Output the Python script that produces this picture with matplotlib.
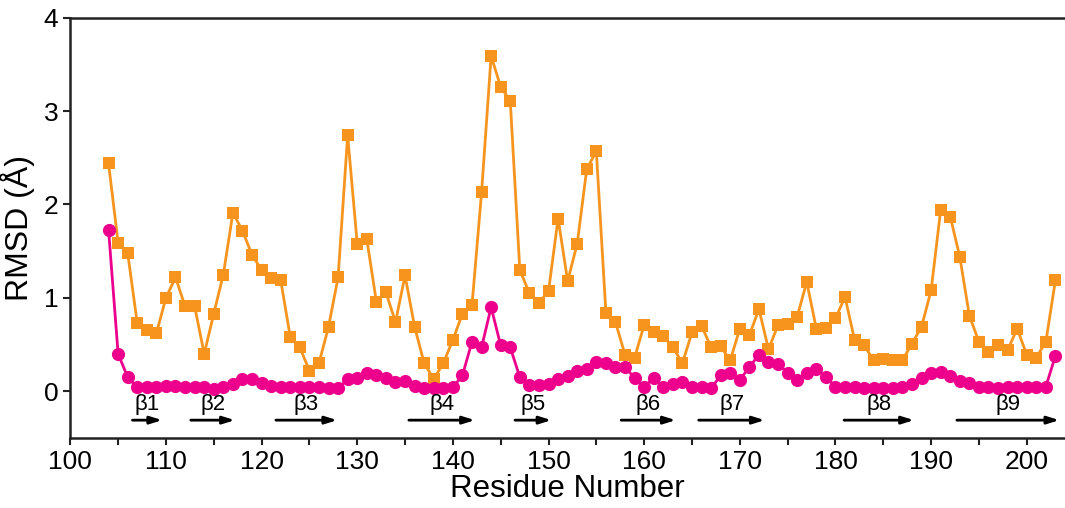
import matplotlib
matplotlib.use("Agg")
import matplotlib.pyplot as plt

# residue numbers 104..203
residues = list(range(104, 204))

rmsd_orange = [
    2.44, 1.59, 1.48, 0.73, 0.66, 0.62, 1.00, 1.22, 0.91, 0.91,   # 104-113
    0.40, 0.83, 1.25, 1.91, 1.72, 1.46, 1.30, 1.21, 1.19, 0.58,   # 114-123
    0.47, 0.22, 0.30, 0.69, 1.22, 2.74, 1.58, 1.63, 0.96, 1.06,   # 124-133
    0.74, 1.24, 0.69, 0.30, 0.13, 0.30, 0.55, 0.83, 0.92, 2.13,   # 134-143
    3.59, 3.26, 3.11, 1.30, 1.05, 0.95, 1.07, 1.85, 1.18, 1.58,   # 144-153
    2.38, 2.57, 0.84, 0.74, 0.39, 0.36, 0.71, 0.63, 0.59, 0.47,   # 154-163
    0.30, 0.63, 0.70, 0.47, 0.48, 0.33, 0.67, 0.60, 0.88, 0.45,   # 164-173
    0.71, 0.72, 0.80, 1.17, 0.67, 0.68, 0.78, 1.01, 0.55, 0.49,   # 174-183
    0.33, 0.35, 0.33, 0.33, 0.51, 0.69, 1.08, 1.94, 1.87, 1.44,   # 184-193
    0.81, 0.53, 0.42, 0.49, 0.44, 0.67, 0.39, 0.36, 0.53, 1.19,   # 194-203
]

rmsd_magenta = [
    1.73, 0.40, 0.15, 0.04, 0.04, 0.05, 0.06, 0.06, 0.05, 0.05,   # 104-113
    0.04, 0.02, 0.04, 0.08, 0.13, 0.13, 0.09, 0.06, 0.04, 0.04,   # 114-123
    0.04, 0.05, 0.04, 0.03, 0.03, 0.13, 0.14, 0.20, 0.17, 0.14,   # 124-133
    0.10, 0.11, 0.06, 0.03, 0.03, 0.03, 0.04, 0.17, 0.53, 0.47,   # 134-143
    0.90, 0.49, 0.47, 0.15, 0.07, 0.07, 0.08, 0.13, 0.16, 0.22,   # 144-153
    0.24, 0.31, 0.30, 0.26, 0.26, 0.14, 0.05, 0.14, 0.04, 0.08,   # 154-163
    0.10, 0.05, 0.04, 0.03, 0.17, 0.19, 0.12, 0.26, 0.39, 0.31,   # 164-173
    0.29, 0.20, 0.12, 0.19, 0.24, 0.15, 0.05, 0.05, 0.04, 0.03,   # 174-183
    0.03, 0.03, 0.03, 0.04, 0.08, 0.14, 0.20, 0.21, 0.16, 0.11,   # 184-193
    0.09, 0.05, 0.04, 0.03, 0.04, 0.05, 0.05, 0.04, 0.05, 0.38,   # 194-203
]

# beta strands: label, start, end
strand_labels = ["β1", "β2", "β3", "β4", "β5", "β6", "β7", "β8", "β9"]
strand_start = [106.5, 112.6, 121.5, 135.4, 146.5, 157.6, 165.7, 180.9, 192.7]
strand_end = [109.6, 117.2, 127.9, 142.3, 150.3, 163.3, 172.6, 188.2, 203.4]

ORANGE = "#F7941D"
MAGENTA = "#EC008C"

plt.rcParams["font.family"] = ["Liberation Sans", "DejaVu Sans"]

fig = plt.figure(figsize=(10.65, 5.08), dpi=100)
ax = fig.add_axes([0.066, 0.138, 0.934, 0.827])

ax.plot(residues, rmsd_orange, color=ORANGE, lw=2, marker="s",
        markersize=9, markeredgewidth=0, zorder=2)
ax.plot(residues, rmsd_magenta, color=MAGENTA, lw=2, marker="o",
        markersize=9.5, markeredgewidth=0, zorder=3)

# secondary structure arrows
arrow_y = -0.31
for lab, s, e in zip(strand_labels, strand_start, strand_end):
    ax.annotate("", xy=(e, arrow_y), xytext=(s, arrow_y),
                arrowprops=dict(arrowstyle="-|>,head_length=0.7,head_width=0.22",
                                color="black", lw=2, shrinkA=0, shrinkB=0))
    ax.text((s + e) / 2, arrow_y + 0.05, lab, ha="center", va="bottom",
            fontsize=16)

ax.set_xlim(100, 204)
ax.set_ylim(-0.5, 4)
ax.set_xticks(range(100, 201, 10))
ax.set_xticks(range(105, 205, 10), minor=True)
ax.set_yticks([0, 1, 2, 3, 4])

ax.set_xlabel("Residue Number", fontsize=22.5, labelpad=0)
ax.set_ylabel("RMSD (Å)", fontsize=23, labelpad=6)

for side in ["left", "bottom", "top"]:
    ax.spines[side].set_linewidth(1.8)
    ax.spines[side].set_color("#222222")
ax.spines["right"].set_visible(False)

ax.tick_params(axis="both", which="major", direction="out", length=5,
               width=1.5, labelsize=19, color="#222222")
ax.tick_params(axis="x", which="minor", direction="out", length=5, width=1.5,
               color="#222222")

fig.savefig("out.png", dpi=100)
